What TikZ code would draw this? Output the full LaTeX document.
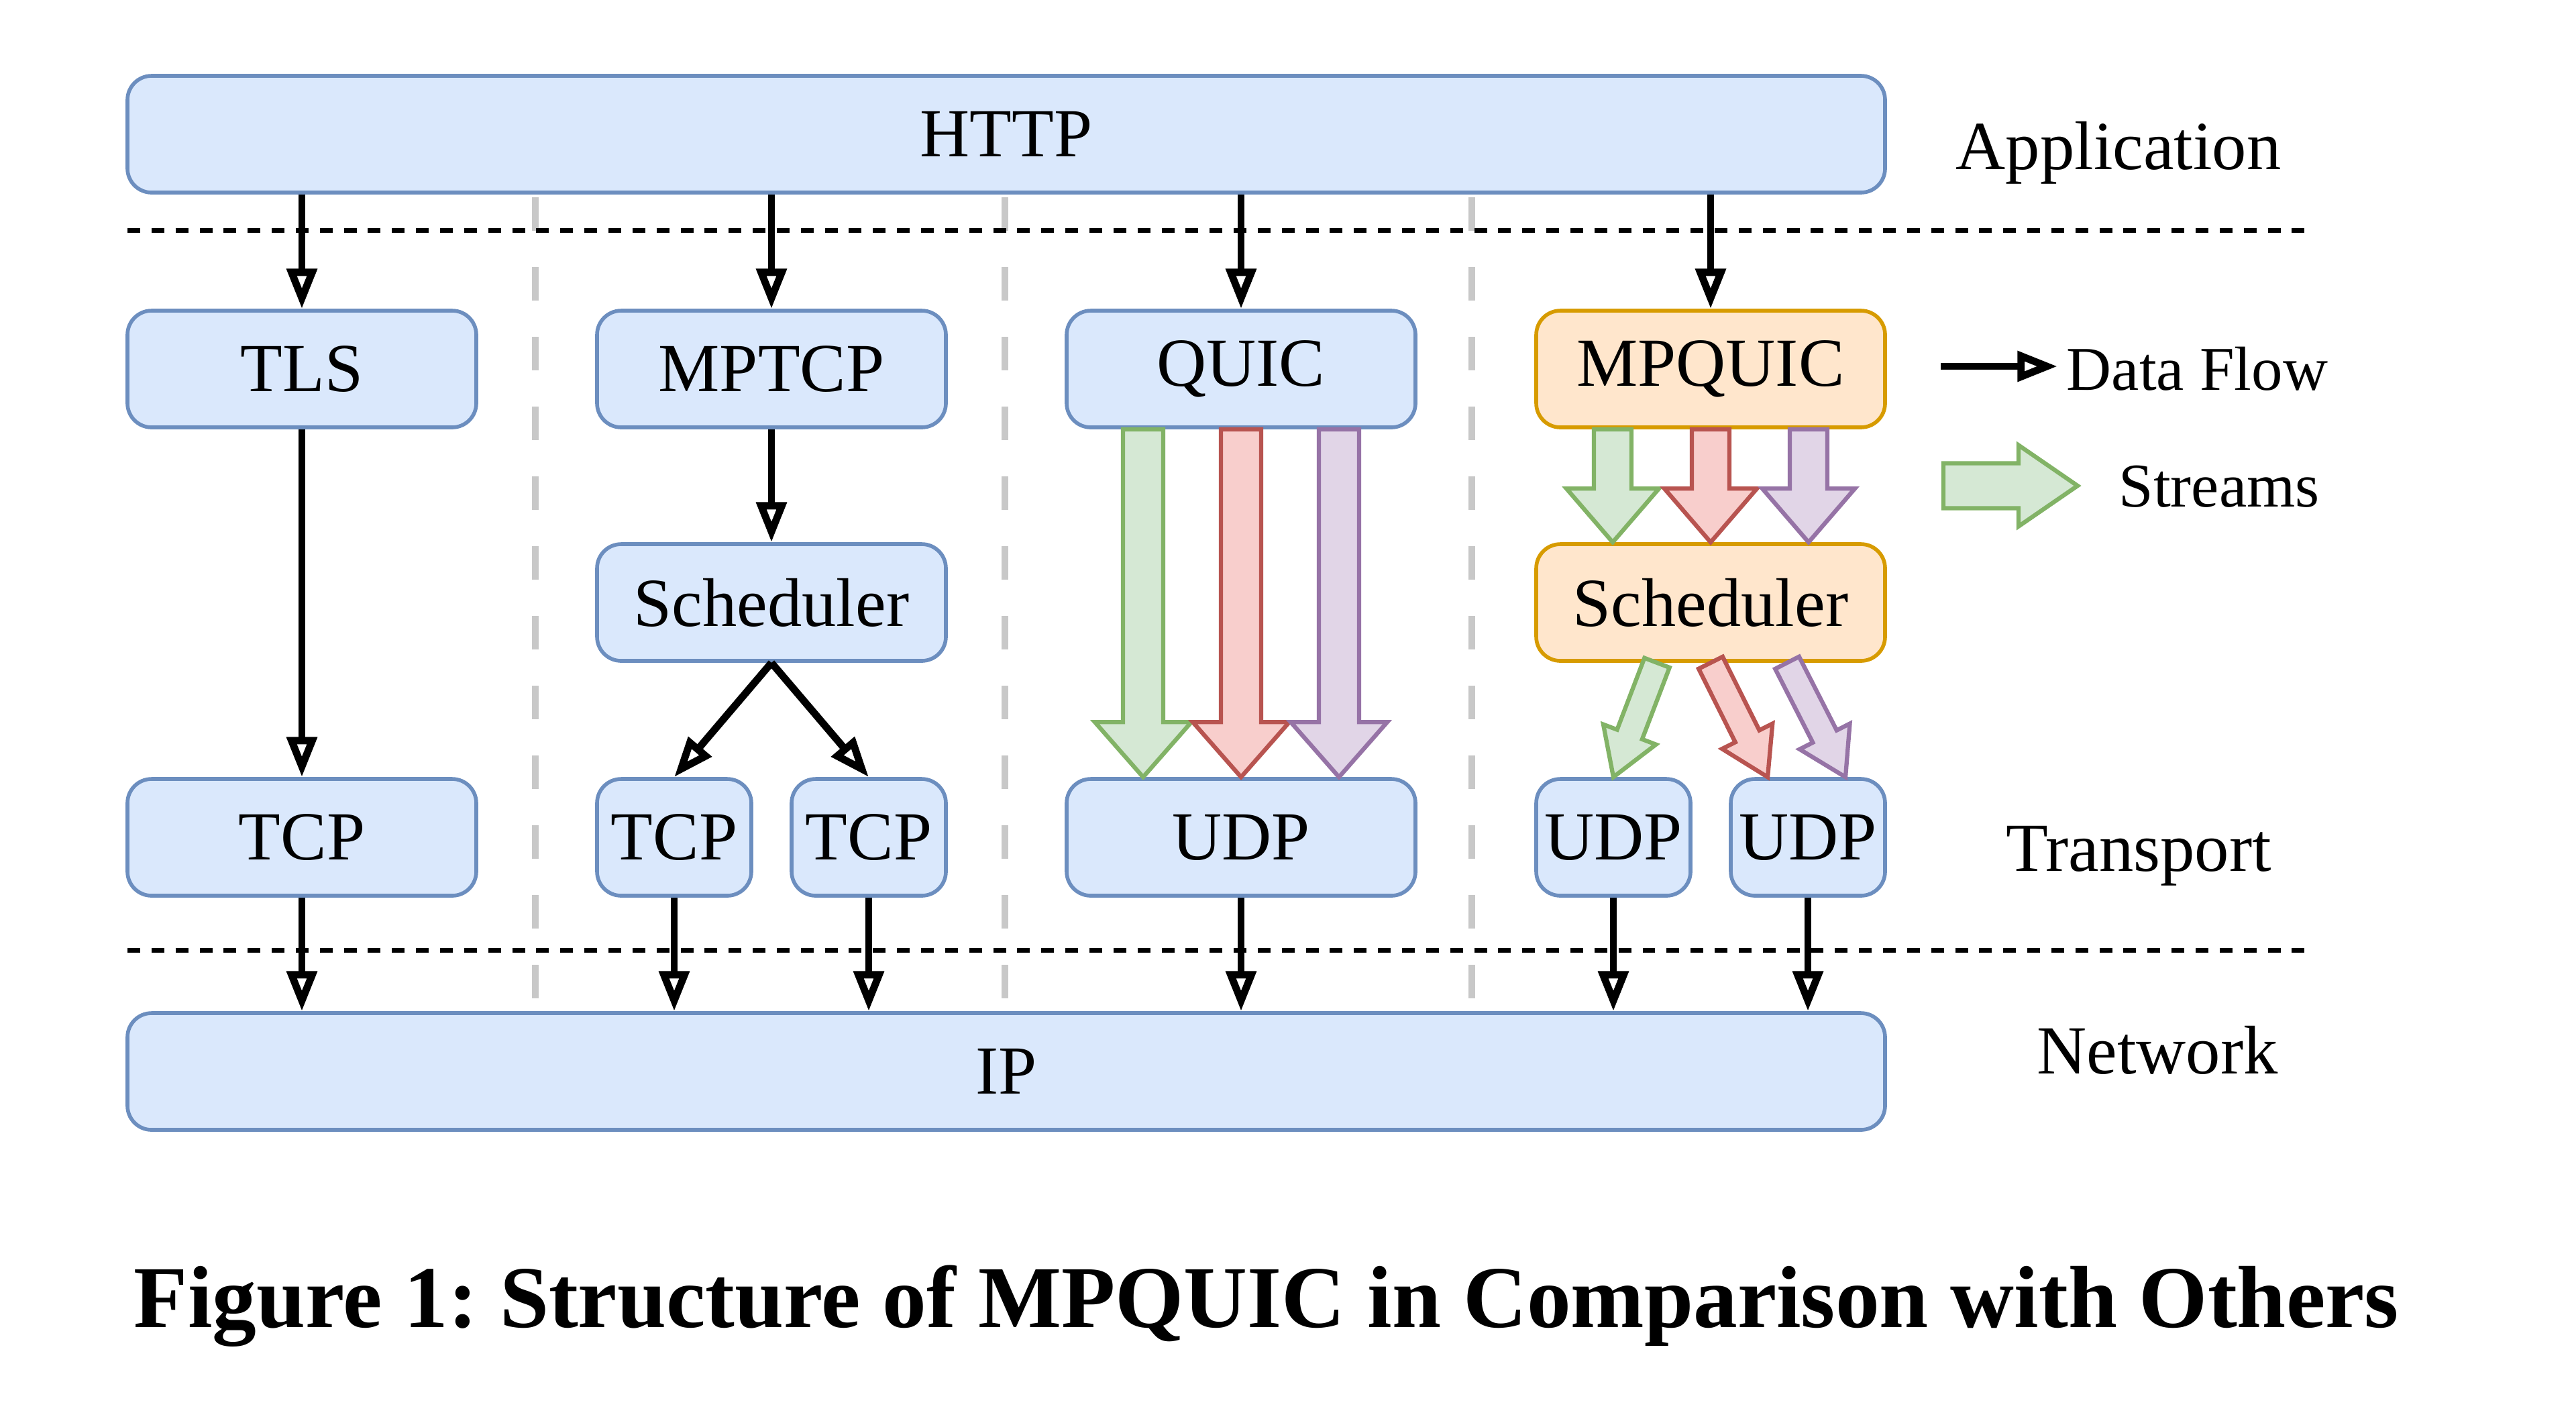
\documentclass[tikz,border=0pt]{standalone}
\usepackage{fontspec}
\setmainfont{Liberation Serif}
\usepackage{tikz}
\usetikzlibrary{arrows.meta,calc}

\definecolor{boxfill}{HTML}{DAE8FC}
\definecolor{boxline}{HTML}{6C8EBF}
\definecolor{orgfill}{HTML}{FFE6CC}
\definecolor{orgline}{HTML}{D79B00}
\definecolor{grnfill}{HTML}{D5E8D4}
\definecolor{grnline}{HTML}{82B366}
\definecolor{redfill}{HTML}{F8CECC}
\definecolor{redline}{HTML}{B85450}
\definecolor{purfill}{HTML}{E1D5E7}
\definecolor{purline}{HTML}{9673A6}
\definecolor{sepgray}{HTML}{C8C8C8}

% block arrow: style, from, to, half shaft, half head, head length
\newcommand{\streamarrow}[6]{
  \coordinate (sa-h) at ($(#3)!#6!(#2)$);
  \draw[#1] ($(#2)!#4!90:(#3)$) -- ($(sa-h)!#4!90:(#3)$) -- ($(sa-h)!#5!90:(#3)$)
    -- (#3) -- ($(sa-h)!#5!-90:(#3)$) -- ($(sa-h)!#4!-90:(#3)$) -- ($(#2)!#4!-90:(#3)$) -- cycle;
}

\begin{document}
\frenchspacing
\begin{tikzpicture}[line width = 0.8pt,
                    layer/.style = {draw = boxline, fill = boxfill, rounded corners = 0.18cm,
                                    minimum width = 2.6cm, minimum height = 0.87cm, inner sep = 0pt,
                                    font = \fontsize{14.6}{17}\selectfont},
                    small/.style = {layer, minimum width = 1.15cm},
                    multi/.style = {draw = orgline, fill = orgfill},
                    flow/.style = {-{Triangle[open, length = 8.5pt, width = 6.2pt]}, line width = 1.55pt},
                    level/.style = {dash pattern = on 2.7pt off 2.4pt, line width = 1pt},
                    sep/.style = {draw = sepgray, dash pattern = on 0.25cm off 0.27cm, line width = 1.5pt},
                    green/.style = {draw = grnline, fill = grnfill, line width = 0.9pt, line join = miter},
                    red/.style = {draw = redline, fill = redfill, line width = 0.9pt, line join = miter},
                    purple/.style = {draw = purline, fill = purfill, line width = 0.9pt, line join = miter},
                    tag/.style = {inner sep = 0pt, font = \fontsize{14.6}{17}\selectfont},
                    legend/.style = {inner sep = 0pt, font = \fontsize{13.2}{16}\selectfont}]

\useasboundingbox (0,0) rectangle (19.2,-10.585);

% separators
\foreach \x in {3.99, 7.49, 10.97}
  \draw[sep] (\x,-1.47) -- (\x,-7.45);
\draw[level] (0.95,-1.715) -- (17.24,-1.715);
\draw[level] (0.95,-7.08) -- (17.24,-7.08);

% application
\node [layer, minimum width = 13.1cm] (http) at (7.5,-1.0) {HTTP};

% security / multipath layer
\node [layer] (tls) at (2.25,-2.75) {TLS};
\node [layer] (mptcp) at (5.75,-2.75) {MPTCP};
\node [layer] (quic) at (9.25,-2.75) {QUIC};
\node [layer, multi] (mpquic) at (12.75,-2.75) {MPQUIC};

\node [layer] (sched) at (5.75,-4.49) {Scheduler};
\node [layer, multi] (mpsched) at (12.75,-4.49) {Scheduler};

% transport
\node [layer] (tcp) at (2.25,-6.24) {TCP};
\node [small] (tcpa) at (5.025,-6.24) {TCP};
\node [small] (tcpb) at (6.475,-6.24) {TCP};
\node [layer] (udp) at (9.25,-6.24) {UDP};
\node [small] (udpa) at (12.025,-6.24) {UDP};
\node [small] (udpb) at (13.475,-6.24) {UDP};

% network
\node [layer, minimum width = 13.1cm] (ip) at (7.5,-7.985) {IP};

\node [tag] (app) at (15.79,-1.14) {Application};
\node [tag] (trans) at (15.94,-6.38) {Transport};
\node [tag] (net) at (16.08,-7.825) {Network};

% data flow
\draw[flow] (tls.north |- http.south) -- (tls.north);
\draw[flow] (mptcp.north |- http.south) -- (mptcp.north);
\draw[flow] (quic.north |- http.south) -- (quic.north);
\draw[flow] (mpquic.north |- http.south) -- (mpquic.north);
\draw[flow] (tls.south) -- (tcp.north);
\draw[flow] (mptcp.south) -- (sched.north);
\draw[flow] (sched.south) -- (tcpa.north);
\draw[flow] (sched.south) -- (tcpb.north);
\draw[flow] (tcp.south) -- (tcp.south |- ip.north);
\draw[flow] (tcpa.south) -- (tcpa.south |- ip.north);
\draw[flow] (tcpb.south) -- (tcpb.south |- ip.north);
\draw[flow] (udp.south) -- (udp.south |- ip.north);
\draw[flow] (udpa.south) -- (udpa.south |- ip.north);
\draw[flow] (udpb.south) -- (udpb.south |- ip.north);

% streams
\streamarrow{green}{[xshift=-7.3mm]quic.south}{[xshift=-7.3mm]udp.north}{0.15cm}{0.36cm}{0.41cm}
\streamarrow{red}{quic.south}{udp.north}{0.15cm}{0.36cm}{0.41cm}
\streamarrow{purple}{[xshift=7.3mm]quic.south}{[xshift=7.3mm]udp.north}{0.15cm}{0.36cm}{0.41cm}

\streamarrow{green}{[xshift=-7.3mm]mpquic.south}{[xshift=-7.3mm]mpsched.north}{0.14cm}{0.345cm}{0.4cm}
\streamarrow{red}{mpquic.south}{mpsched.north}{0.14cm}{0.345cm}{0.4cm}
\streamarrow{purple}{[xshift=7.3mm]mpquic.south}{[xshift=7.3mm]mpsched.north}{0.14cm}{0.345cm}{0.4cm}

\streamarrow{green}{[xshift=-4mm]mpsched.south}{udpa.north}{0.1cm}{0.21cm}{0.34cm}
\streamarrow{red}{mpsched.south}{[xshift=-3mm]udpb.north}{0.1cm}{0.21cm}{0.34cm}
\streamarrow{purple}{[xshift=5.7mm]mpsched.south}{[xshift=2.8mm]udpb.north}{0.1cm}{0.21cm}{0.34cm}

% legend
\coordinate (flowstart) at (14.465,-2.73);
\coordinate (flowend) at (15.335,-2.73);
\draw[flow] (flowstart) -- (flowend);
\node [legend, anchor = west] (flowtxt) at (15.39,-2.75) {Data Flow};

\coordinate (streamstart) at (14.485,-3.62);
\coordinate (streamend) at (15.485,-3.62);
\streamarrow{green}{streamstart}{streamend}{0.1675cm}{0.3025cm}{0.44cm}
\node [legend] (streamtxt) at (16.54,-3.625) {Streams};

\node [font = \fontsize{18.7}{22}\selectfont\bfseries] (caption) at (9.44,-9.735)
  {Figure 1: Structure of MPQUIC in Comparison with Others};
\end{tikzpicture}
\end{document}
